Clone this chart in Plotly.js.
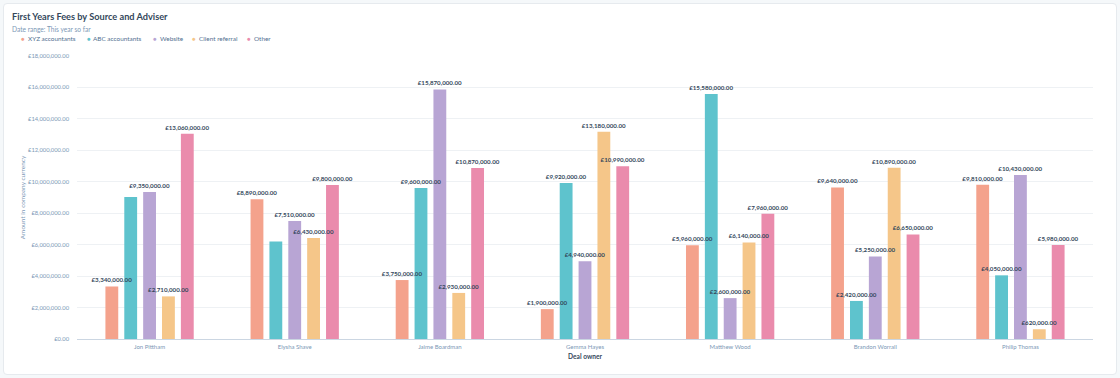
<!DOCTYPE html>
<html><head><meta charset="utf-8">
<script src="https://cdn.plot.ly/plotly-3.0.1.min.js"></script>
<style>
html,body{margin:0;padding:0;background:#f5f8fa;width:1120px;height:378px;overflow:hidden;}
#card{position:absolute;left:3px;top:3px;width:1112px;height:370px;background:#fff;border:1px solid #e6eaee;border-radius:4px;}
#chart{position:absolute;left:0;top:0;width:1120px;height:378px;}
</style></head><body>
<div id="card"></div>
<div id="chart"></div>
<script>
const owners = ["Jon Pittham","Elysha Shave","Jaime Boardman","Gemma Hayes","Matthew Wood","Brandon Worrall","Philip Thomas"];
const sources = ["XYZ accountants","ABC accountants","Website","Client referral","Other"];
const colors = ["#f4a28c","#5ec3cd","#b8a5d4","#f5c689","#ea8bac"];
const xyz = [3340000, 8890000, 3750000, 1900000, 5960000, 9640000, 9810000];
const abc = [9030000, 6200000, 9600000, 9920000, 15580000, 2420000, 4050000];
const website = [9350000, 7510000, 15870000, 4940000, 2600000, 5250000, 10430000];
const referral = [2710000, 6430000, 2930000, 13180000, 6140000, 10890000, 620000];
const other = [13060000, 9800000, 10870000, 10990000, 7960000, 6650000, 5980000];
const series = [xyz, abc, website, referral, other];
// value labels not shown in the reference (hidden by overlap)
const hiddenLabels = {1: [0, 1]};

const fmt = v => "£" + v.toFixed(2).replace(/\B(?=(\d{3})+(?!\d))/g, ",");
const font = "Lato, 'Noto Sans', sans-serif";
const PL = 77, PW = 1016, PT = 56, PH = 283.5;
const px = x => (x - PL) / PW, py = y => 1 + (PT - y) / PH;
const traces = [];
series.forEach((vals, i) => {
  traces.push({type: "bar", x: owners, y: vals, name: sources[i], showlegend: false,
    offsetgroup: "g" + i, marker: {color: colors[i]}, hoverinfo: "skip"});
});
// label layer drawn above all bars
series.forEach((vals, i) => {
  const hid = hiddenLabels[i] || [];
  traces.push({type: "bar", x: owners, y: vals, name: sources[i], showlegend: false,
    offsetgroup: "g" + i, marker: {color: "rgba(0,0,0,0)"},
    text: vals.map((v, j) => hid.includes(j) ? "" : fmt(v)),
    texttemplate: "%{text}", textposition: "outside", cliponaxis: false, constraintext: "none",
    textfont: {family: font, size: 6.2, color: "#33475b", weight: 700}, hoverinfo: "skip"});
});
const legendDot = [22.5, 88.5, 155, 194, 249];
const legendText = [28, 93, 160, 199, 254];
const ann = [
  {xref: "paper", yref: "paper", xanchor: "left", yanchor: "middle", x: px(10), y: py(16),
   text: "<b>First Years Fees by Source and Adviser</b>", showarrow: false,
   font: {size: 9.2, color: "#33475b", family: font}},
  {xref: "paper", yref: "paper", xanchor: "left", yanchor: "middle", x: px(10), y: py(29),
   text: "Date range: This year so far", showarrow: false, font: {size: 6.6, color: "#7c98b6", family: font}}
];
sources.forEach((s, i) => {
  ann.push({xref: "paper", yref: "paper", xanchor: "center", yanchor: "middle", x: px(legendDot[i]), y: py(38),
    text: "●", showarrow: false, font: {size: 6, color: colors[i], family: font}});
  ann.push({xref: "paper", yref: "paper", xanchor: "left", yanchor: "middle", x: px(legendText[i] - 2), y: py(38),
    text: s, showarrow: false, font: {size: 6.4, color: "#516f90", family: font}});
});
const layout = {
  width: 1120, height: 378, paper_bgcolor: "rgba(0,0,0,0)", plot_bgcolor: "rgba(0,0,0,0)",
  margin: {l: PL, r: 1120 - PL - PW, t: PT, b: 378 - PT - PH}, font: {family: font, size: 6, color: "#7c98b6"},
  barmode: "group", bargap: 0.35, bargroupgap: 0.32, showlegend: false,
  xaxis: {type: "category", showgrid: false, showline: true, linecolor: "#cbd6e2", ticks: "",
          ticklabelstandoff: 2,
          tickfont: {size: 6, color: "#7c98b6"},
          title: {text: "Deal owner", font: {size: 6.6, color: "#33475b", weight: 700}, standoff: 5}},
  yaxis: {range: [0, 18000000], dtick: 2000000, tickformat: ",.2f", tickprefix: "£",
          gridcolor: "#eef1f4", zeroline: false, ticks: "", ticklabelstandoff: 7,
          tickfont: {size: 5.8, color: "#7c98b6"},
          title: {text: "Amount in company currency", font: {size: 6.5, color: "#7c98b6"}, standoff: 1}},
  annotations: ann
};
Plotly.newPlot("chart", traces, layout, {displayModeBar: false, staticPlot: true});
</script>
</body></html>
